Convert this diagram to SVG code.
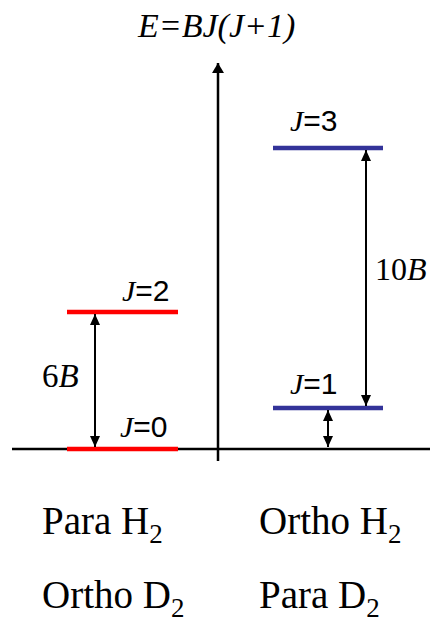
<svg xmlns="http://www.w3.org/2000/svg" width="430" height="623" viewBox="0 0 430 623">
<style>
.lvl-r{stroke:#ff0000;stroke-width:4.5}
.lvl-b{stroke:#333399;stroke-width:4.5}
.ax{stroke:#000;stroke-width:2.5;fill:none}
.arr{stroke:#000;stroke-width:2;fill:none}
.serif{font-family:"Liberation Serif","Times New Roman",serif;fill:#000}
.sans{font-family:"Liberation Sans",Arial,sans-serif;fill:#000}
.it{font-style:italic}
</style>
<defs>
<marker id="ah" viewBox="0 0 10 12" refX="10" refY="6" markerWidth="10" markerHeight="12" markerUnits="userSpaceOnUse" orient="auto">
<path d="M0,0 L10,6 L0,12 z" fill="#000"/>
</marker>
<marker id="ahs" viewBox="0 0 11 10" refX="11" refY="5" markerWidth="11" markerHeight="10" markerUnits="userSpaceOnUse" orient="auto-start-reverse">
<path d="M0,0 L11,5 L0,10 z" fill="#000"/>
</marker>
</defs>
<text class="serif it" x="138" y="37" font-size="34">E=BJ(J+1)</text>
<g id="axes">
<line class="ax" x1="12" y1="449" x2="430" y2="449"/>
<line class="ax" x1="218" y1="461" x2="218" y2="63" marker-end="url(#ah)"/>
</g>
<g id="J2">
<line class="lvl-r" x1="67" y1="312" x2="178" y2="312"/>
<text x="122" y="301" font-size="30"><tspan class="serif it">J</tspan><tspan class="sans">=2</tspan></text>
</g>
<g id="J0">
<line class="lvl-r" x1="67" y1="449" x2="178" y2="449"/>
<text x="120" y="437" font-size="30"><tspan class="serif it">J</tspan><tspan class="sans">=0</tspan></text>
</g>
<g id="J3">
<line class="lvl-b" x1="273" y1="148" x2="383" y2="148"/>
<text x="290" y="131" font-size="30"><tspan class="serif it">J</tspan><tspan class="sans">=3</tspan></text>
</g>
<g id="J1">
<line class="lvl-b" x1="273" y1="408" x2="383" y2="408"/>
<text x="290" y="394" font-size="30"><tspan class="serif it">J</tspan><tspan class="sans">=1</tspan></text>
</g>
<g id="connectors">
<line class="arr" x1="95" y1="314" x2="95" y2="447" marker-start="url(#ahs)" marker-end="url(#ahs)"/>
<line class="arr" x1="366" y1="150" x2="366" y2="406" marker-start="url(#ahs)" marker-end="url(#ahs)"/>
<line class="arr" x1="328" y1="410" x2="328" y2="447" marker-start="url(#ahs)" marker-end="url(#ahs)"/>
</g>
<text class="serif" x="42" y="387" font-size="33">6<tspan class="it">B</tspan></text>
<text class="serif" x="375" y="280" font-size="32">10<tspan class="it">B</tspan></text>
<g id="labels" class="serif" font-size="39">
<text x="42" y="534">Para H<tspan font-size="27" dy="9">2</tspan></text>
<text x="259" y="534">Ortho H<tspan font-size="27" dy="9">2</tspan></text>
<text x="42" y="608">Ortho D<tspan font-size="27" dy="9">2</tspan></text>
<text x="259" y="608">Para D<tspan font-size="27" dy="9">2</tspan></text>
</g>
</svg>
